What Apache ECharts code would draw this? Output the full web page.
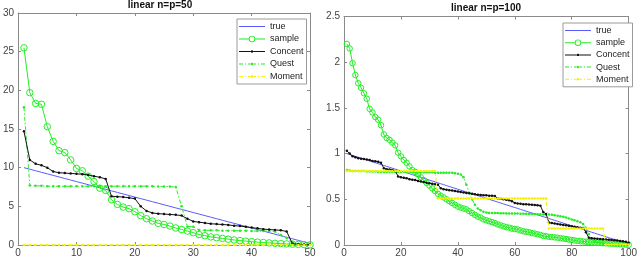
<!DOCTYPE html>
<html><head><meta charset="utf-8">
<script src="https://cdn.jsdelivr.net/npm/echarts@6/dist/echarts.min.js"></script>
<style>html,body{margin:0;padding:0;background:#fff}#c{width:640px;height:278px}</style>
</head><body><div id="c"></div>
<script>
// ---------- data ----------
const seriesNames = ['true', 'sample', 'Concent', 'Quest', 'Moment'];
const titles = ['linear n=p=50', 'linear n=p=100'];

const leftXTicks = [0, 10, 20, 30, 40, 50];
const leftYTicks = [0, 5, 10, 15, 20, 25, 30];
const rightXTicks = [0, 20, 40, 60, 80, 100];
const rightYTicks = [0, 0.5, 1, 1.5, 2, 2.5];

const leftTrue = [10.0, 9.8, 9.6, 9.4, 9.2, 9.0, 8.8, 8.6, 8.4, 8.2, 8.0, 7.8, 7.6, 7.4, 7.2, 7.0, 6.8, 6.6, 6.4, 6.2,
  6.0, 5.8, 5.6, 5.4, 5.2, 5.0, 4.8, 4.6, 4.4, 4.2, 4.0, 3.8, 3.6, 3.4, 3.2, 3.0, 2.8, 2.6, 2.4, 2.2,
  2.0, 1.8, 1.6, 1.4, 1.2, 1.0, 0.8, 0.6, 0.4, 0.2];
const leftSample = [25.5, 19.7, 18.3, 18.2, 15.3, 13.4, 12.2, 11.95, 11.0, 9.9, 9.6, 8.9, 8.2, 7.35, 7.05, 5.85, 5.25, 4.9, 4.7, 4.3,
  3.8, 3.4, 3.1, 2.8, 2.65, 2.45, 2.2, 2.0, 1.8, 1.6, 1.35, 1.2, 1.05, 0.95, 0.85, 0.75, 0.65, 0.57, 0.5, 0.43,
  0.37, 0.32, 0.27, 0.22, 0.18, 0.14, 0.11, 0.08, 0.05, 0.02];
const leftConcent = [14.7, 11.0, 10.5, 10.3, 10.0, 9.5, 9.35, 9.3, 9.25, 9.2, 9.15, 9.05, 8.9, 8.75, 8.55, 6.3, 6.25, 6.2, 6.1, 6.0,
  5.0, 4.4, 4.15, 4.05, 4.0, 3.95, 3.9, 3.8, 3.4, 3.05, 2.95, 2.85, 2.75, 2.7, 2.65, 2.6, 2.5, 2.45, 2.35, 2.25,
  2.15, 2.05, 2.0, 1.95, 1.9, 1.75, 0.15, 0.1, 0.05, 0.03];
const leftQuest = [17.8, 7.7, 7.65, 7.65, 7.6, 7.6, 7.6, 7.6, 7.6, 7.6, 7.6, 7.6, 7.6, 7.6, 7.6, 7.6, 7.6, 7.6, 7.6, 7.6,
  7.6, 7.6, 7.6, 7.55, 7.55, 7.55, 7.5, 5.0, 2.4, 2.35, 1.95, 1.9, 1.9, 1.9, 1.85, 1.85, 1.85, 1.85, 1.85, 1.8,
  1.8, 1.8, 1.8, 1.75, 1.3, 0.9, 0.35, 0.15, 0.08, 0.05];
const leftMoment = [0, 0, 0, 0, 0, 0, 0, 0, 0, 0, 0, 0, 0, 0, 0, 0, 0, 0, 0, 0,
  0, 0, 0, 0, 0, 0, 0, 0, 0, 0, 0, 0, 0, 0, 0, 0, 0, 0, 0, 0,
  0, 0, 0, 0, 0, 0, 0, 0, 0, 0];

const rightTrue = [1.00, 0.99, 0.98, 0.97, 0.96, 0.95, 0.94, 0.93, 0.92, 0.91, 0.90, 0.89, 0.88, 0.87, 0.86, 0.85, 0.84, 0.83, 0.82, 0.81,
  0.80, 0.79, 0.78, 0.77, 0.76, 0.75, 0.74, 0.73, 0.72, 0.71, 0.70, 0.69, 0.68, 0.67, 0.66, 0.65, 0.64, 0.63, 0.62, 0.61,
  0.60, 0.59, 0.58, 0.57, 0.56, 0.55, 0.54, 0.53, 0.52, 0.51, 0.50, 0.49, 0.48, 0.47, 0.46, 0.45, 0.44, 0.43, 0.42, 0.41,
  0.40, 0.39, 0.38, 0.37, 0.36, 0.35, 0.34, 0.33, 0.32, 0.31, 0.30, 0.29, 0.28, 0.27, 0.26, 0.25, 0.24, 0.23, 0.22, 0.21,
  0.20, 0.19, 0.18, 0.17, 0.16, 0.15, 0.14, 0.13, 0.12, 0.11, 0.10, 0.09, 0.08, 0.07, 0.06, 0.05, 0.04, 0.03, 0.02, 0.01];
const rightSample = [2.20, 2.15, 1.99, 1.86, 1.77, 1.72, 1.66, 1.60, 1.49, 1.45, 1.40, 1.37, 1.31, 1.21, 1.17, 1.15, 1.12, 1.09, 1.01, 0.97,
  0.93, 0.90, 0.86, 0.82, 0.80, 0.77, 0.74, 0.71, 0.68, 0.65, 0.62, 0.59, 0.56, 0.54, 0.52, 0.50, 0.48, 0.46, 0.44, 0.42,
  0.41, 0.40, 0.39, 0.37, 0.35, 0.33, 0.31, 0.30, 0.28, 0.27, 0.26, 0.25, 0.24, 0.225, 0.215, 0.205, 0.195, 0.19, 0.18, 0.175,
  0.17, 0.16, 0.15, 0.145, 0.14, 0.13, 0.125, 0.117, 0.11, 0.10, 0.095, 0.09, 0.087, 0.083, 0.08, 0.075, 0.07, 0.065, 0.06, 0.055,
  0.05, 0.045, 0.042, 0.039, 0.036, 0.033, 0.03, 0.027, 0.025, 0.022, 0.02, 0.018, 0.016, 0.014, 0.012, 0.01, 0.008, 0.006, 0.004, 0.002];
const rightConcent = [1.03, 1.00, 0.97, 0.96, 0.95, 0.945, 0.94, 0.935, 0.93, 0.92, 0.915, 0.91, 0.90, 0.84, 0.83, 0.825, 0.82, 0.81, 0.75, 0.74,
  0.735, 0.73, 0.72, 0.715, 0.71, 0.70, 0.695, 0.69, 0.68, 0.675, 0.67, 0.665, 0.66, 0.62, 0.61, 0.605, 0.60, 0.595, 0.59, 0.585,
  0.58, 0.575, 0.57, 0.565, 0.56, 0.555, 0.55, 0.548, 0.545, 0.543, 0.54, 0.538, 0.535, 0.51, 0.505, 0.50, 0.495, 0.49, 0.48, 0.46,
  0.455, 0.45, 0.447, 0.445, 0.443, 0.44, 0.438, 0.435, 0.43, 0.36, 0.34, 0.245, 0.24, 0.235, 0.23, 0.225, 0.22, 0.215, 0.21, 0.205,
  0.20, 0.195, 0.19, 0.185, 0.14, 0.08, 0.075, 0.07, 0.068, 0.065, 0.063, 0.06, 0.058, 0.055, 0.053, 0.05, 0.045, 0.04, 0.035, 0.025];
const rightQuest = [0.82, 0.815, 0.81, 0.81, 0.81, 0.81, 0.81, 0.805, 0.805, 0.805, 0.805, 0.80, 0.80, 0.80, 0.80, 0.80, 0.80, 0.80, 0.80, 0.80,
  0.80, 0.80, 0.80, 0.80, 0.795, 0.795, 0.795, 0.795, 0.795, 0.795, 0.795, 0.79, 0.79, 0.79, 0.79, 0.79, 0.79, 0.79, 0.785, 0.78,
  0.77, 0.74, 0.66, 0.57, 0.50, 0.44, 0.40, 0.38, 0.365, 0.355, 0.35, 0.35, 0.35, 0.35, 0.348, 0.348, 0.346, 0.346, 0.345, 0.345,
  0.344, 0.343, 0.342, 0.341, 0.34, 0.339, 0.338, 0.337, 0.336, 0.335, 0.334, 0.333, 0.33, 0.325, 0.32, 0.315, 0.31, 0.30, 0.29, 0.28,
  0.27, 0.26, 0.25, 0.23, 0.19, 0.12, 0.07, 0.04, 0.03, 0.025, 0.022, 0.02, 0.018, 0.016, 0.015, 0.014, 0.013, 0.012, 0.011, 0.01];
const rightMoment = [0.81, 0.81, 0.81, 0.81, 0.81, 0.81, 0.81, 0.81, 0.81, 0.81, 0.81, 0.81, 0.81, 0.81, 0.81, 0.81, 0.81, 0.81, 0.81, 0.81,
  0.81, 0.81, 0.81, 0.81, 0.81, 0.81, 0.81, 0.81, 0.81, 0.81, 0.81, 0.81, 0.51, 0.51, 0.51, 0.51, 0.51, 0.51, 0.51, 0.51,
  0.51, 0.51, 0.51, 0.51, 0.51, 0.51, 0.51, 0.51, 0.51, 0.51, 0.51, 0.51, 0.51, 0.51, 0.51, 0.51, 0.51, 0.51, 0.51, 0.51,
  0.51, 0.51, 0.51, 0.51, 0.51, 0.51, 0.51, 0.51, 0.51, 0.51, 0.51, 0.18, 0.18, 0.18, 0.18, 0.18, 0.18, 0.18, 0.18, 0.18,
  0.18, 0.18, 0.18, 0.18, 0.18, 0.18, 0.18, 0.18, 0.18, 0.18, 0.18, 0.005, 0.005, 0.005, 0.005, 0.005, 0.005, 0.005, 0.005, 0.005];

// ---------- styling ----------
const FONT = '"Liberation Sans", Arial, Helvetica, sans-serif';
const AXIS_COLOR = '#8a8a8a';
const LABEL_COLOR = '#444';
const colors = { 'true': '#5a5aff', 'sample': '#22ee22', 'Concent': '#111111', 'Quest': '#22ee22', 'Moment': '#f2f200' };
const DASHDOT = [4, 2, 1.5, 2];

const dot = (cx, cy, r) => `M${cx + r},${cy}A${r} ${r} 0 1 0 ${cx - r} ${cy}A${r} ${r} 0 1 0 ${cx + r} ${cy}Z`;
const rect = (x0, x1, y0, y1) => `M${x0},${y0}H${x1}V${y1}H${x0}Z`;
const icons = {
  'true': 'path://' + rect(0, 26, 0, 1),
  'sample': 'path://' + rect(0, 9.7, 3, 4) + rect(16.3, 26, 3, 4) +
    'M16.3,3.5A3.3 3.3 0 1 0 9.7 3.5A3.3 3.3 0 1 0 16.3 3.5Z' +
    'M15.4,3.5A2.4 2.4 0 1 1 10.6 3.5A2.4 2.4 0 1 1 15.4 3.5Z',
  'Concent': 'path://' + rect(0, 11.8, 0, 1) + rect(14.2, 26, 0, 1) + dot(13, 0.5, 1.2),
  'Quest': 'path://' + rect(0, 4, 0, 1) + rect(6, 7, 0, 1) + rect(9, 11.6, 0, 1) + dot(13, 0.5, 1.2) +
    rect(14.4, 17, 0, 1) + rect(19, 20, 0, 1) + rect(22, 26, 0, 1),
  'Moment': 'path://' + rect(0, 4, 0, 1) + rect(6, 7, 0, 1) + rect(9, 11.6, 0, 1) + dot(13, 0.5, 1.2) +
    rect(14.4, 17, 0, 1) + rect(19, 20, 0, 1) + rect(22, 26, 0, 1)
};

const grids = [
  { left: 14.7, top: 13, width: 295.3, height: 232 },
  { left: 344, top: 16.5, width: 289, height: 228.5 }
];

const panels = [
  { x: leftXTicks, y: leftYTicks, data: [leftTrue, leftSample, leftConcent, leftQuest, leftMoment], circle: 6.5 },
  { x: rightXTicks, y: rightYTicks, data: [rightTrue, rightSample, rightConcent, rightQuest, rightMoment], circle: 5.5 }
];

const xAxis = [], yAxis = [], series = [];
panels.forEach((p, gi) => {
  const xMin = p.x[0], xMax = p.x[p.x.length - 1], xInt = p.x[1] - p.x[0];
  const yMin = p.y[0], yMax = p.y[p.y.length - 1], yInt = p.y[1] - p.y[0];
  const base = {
    type: 'value', gridIndex: gi,
    axisLine: { show: true, onZero: false, lineStyle: { color: AXIS_COLOR, width: 1 } },
    axisTick: { show: true, inside: true, length: 3, lineStyle: { color: AXIS_COLOR } },
    splitLine: { show: false }
  };
  xAxis.push(Object.assign({}, base, { position: 'bottom', min: xMin, max: xMax, interval: xInt,
    axisLabel: { show: true, margin: 3, fontSize: 10, color: LABEL_COLOR, fontFamily: FONT } }));
  xAxis.push(Object.assign({}, base, { position: 'top', min: xMin, max: xMax, interval: xInt, axisLabel: { show: false } }));
  yAxis.push(Object.assign({}, base, { position: 'left', min: yMin, max: yMax, interval: yInt,
    axisLabel: { show: true, margin: 4, fontSize: 10, color: LABEL_COLOR, fontFamily: FONT } }));
  yAxis.push(Object.assign({}, base, { position: 'right', min: yMin, max: yMax, interval: yInt, axisLabel: { show: false } }));

  seriesNames.forEach((name, si) => {
    const vals = p.data[si];
    const s = {
      name, type: 'line', xAxisIndex: gi * 2, yAxisIndex: gi * 2,
      data: vals.map((v, i) => [i + 1, v]),
      animation: false, silent: true, clip: false,
      color: colors[name],
      lineStyle: { color: colors[name], width: 1 },
      emphasis: { disabled: true }
    };
    if (name === 'true') {
      s.symbol = 'none'; s.showSymbol = false; s.z = 2;
    } else if (name === 'sample') {
      s.symbol = 'circle'; s.symbolSize = p.circle; s.showSymbol = true;
      s.itemStyle = { color: 'rgba(255,255,255,0)', borderColor: colors[name], borderWidth: 1 }; s.z = 3;
    } else if (name === 'Concent') {
      s.symbol = 'circle'; s.symbolSize = 2.5; s.itemStyle = { color: colors[name] }; s.z = 5;
    } else {
      s.symbol = 'circle'; s.symbolSize = 2.5; s.itemStyle = { color: colors[name] };
      s.lineStyle.type = DASHDOT; s.z = name === 'Quest' ? 4 : 6;
    }
    series.push(s);
  });
});

const legendBase = {
  orient: 'vertical', itemWidth: 26, itemHeight: 8,
  backgroundColor: '#fff', borderColor: '#9a9a9a', borderWidth: 1,
  padding: [3, 3, 3, 2], selectedMode: false,
  itemStyle: { borderWidth: 0 },
  textStyle: { fontSize: 9, color: '#222', fontFamily: FONT, lineHeight: 8 },
  data: seriesNames.map(n => ({ name: n, icon: icons[n], itemStyle: { color: colors[n], borderWidth: 0 } }))
};

const option = {
  animation: false,
  title: [
    { text: titles[0], left: 160, top: 0, textAlign: 'center', padding: 0,
      textStyle: { fontSize: 10, fontWeight: 'bold', color: '#111', fontFamily: FONT } },
    { text: titles[1], left: 486, top: 3.5, textAlign: 'center', padding: 0,
      textStyle: { fontSize: 10, fontWeight: 'bold', color: '#111', fontFamily: FONT } }
  ],
  grid: grids,
  xAxis, yAxis, series,
  legend: [
    Object.assign({}, legendBase, { left: 237, top: 19, itemGap: 3.5 }),
    Object.assign({}, legendBase, { left: 563, top: 23, itemGap: 3.2 })
  ]
};

const chart = echarts.init(document.getElementById('c'), null, { renderer: 'canvas' });
chart.setOption(option);
</script>
</body></html>
